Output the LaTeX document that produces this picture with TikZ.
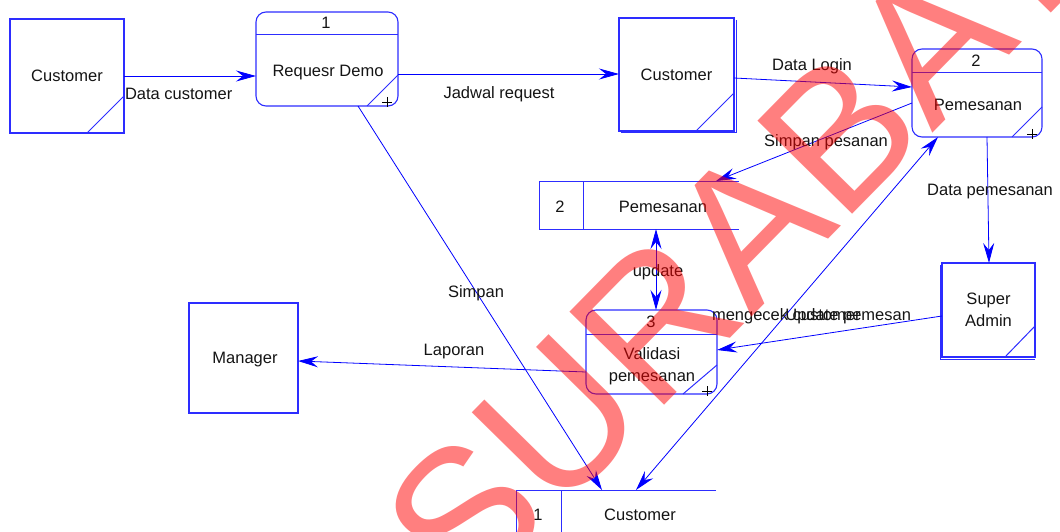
\documentclass[tikz,border=0pt]{standalone}
\usepackage{fontspec}
\setmainfont{Liberation Sans}
\usetikzlibrary{arrows.meta,calc}
\definecolor{ln}{RGB}{0,0,255}
\definecolor{bx}{RGB}{45,45,255}
\definecolor{tx}{RGB}{20,20,20}
\begin{document}
\begin{tikzpicture}[x=1pt,y=-1pt,
  every node/.style={font=\fontsize{16.5}{21.5}\selectfont, text=tx, inner sep=0pt, outer sep=0pt},
  entity/.style={draw=bx, line width=1.1pt, align=center},
  proc/.style={draw=bx, line width=1.1pt, rounded corners=10pt},
  edge line/.style={draw=bx, line width=1pt},
  tip/.tip={Stealth[length=20pt,width=11pt,inset=7pt]},
  flow/.style={draw=ln, line width=0.8pt, -tip},
  biflow/.style={draw=ln, line width=0.8pt, tip-tip},
  plus/.style={draw=black, line width=0.8pt},
  wmark/.style={text=red, opacity=0.5, font=\fontsize{193}{193}\selectfont}]
\useasboundingbox (0,0) rectangle (1060,532);

% external entities
\node[entity, minimum width=114pt, minimum height=114pt] (cust1) at (67,76) {Customer};
\draw[edge line] ($(cust1.south east)+(-37,0)$) -- ($(cust1.south east)+(0,-37)$);

\node[entity, minimum width=115pt, minimum height=113pt] (cust2) at (676.5,74.5) {Customer};
\draw[edge line] ($(cust2.south east)+(-38,0)$) -- ($(cust2.south east)+(0,-38)$);
\draw[edge line] ($(cust2.north east)+(2,2)$) -- ($(cust2.south east)+(2,2)$) -- ($(cust2.south west)+(2,2)$);

\node[entity, minimum width=93pt, minimum height=94pt] (sadmin) at (988.5,310) {Super\\Admin};
\draw[edge line] ($(sadmin.south east)+(-30,0)$) -- ($(sadmin.south east)+(0,-31)$);
\draw[edge line] ($(sadmin.north west)+(-2,2)$) -- ($(sadmin.south west)+(-2,2)$) -- ($(sadmin.south east)+(0,2)$);

\node[entity, minimum width=109pt, minimum height=110pt] (manager) at (243.5,358) {};
\node (mgt) at (245,360) {Manager};

% processes
\node[proc, minimum width=142pt, minimum height=94pt] (p1) at (327,59) {};
\draw[edge line] ($(p1.north west)+(0,23)$) -- ($(p1.north east)+(0,23)$);
\draw[edge line] ($(p1.south east)+(-31,0)$) -- ($(p1.south east)+(0,-31)$);
\node (p1n) at (326,23) {1};
\node (p1t) at (328,73) {Requesr Demo};
\draw[plus] ($(p1.south east)+(-16,-4)$) -- ($(p1.south east)+(-6,-4)$)
            ($(p1.south east)+(-11,-9)$) -- ($(p1.south east)+(-11,1)$);

\node[proc, minimum width=130pt, minimum height=88pt] (p2) at (977,93) {};
\draw[edge line] ($(p2.north west)+(0,24)$) -- ($(p2.north east)+(0,24)$);
\draw[edge line] ($(p2.south east)+(-30,0)$) -- ($(p2.south east)+(0,-30)$);
\node (p2n) at (976,61) {2};
\node (p2t) at (978,105) {Pemesanan};
\draw[plus] ($(p2.south east)+(-15,-3)$) -- ($(p2.south east)+(-5,-3)$)
            ($(p2.south east)+(-10,-8)$) -- ($(p2.south east)+(-10,2)$);

\node[proc, minimum width=131pt, minimum height=84pt] (p3) at (651.5,352) {};
\draw[edge line] ($(p3.north west)+(0,24)$) -- ($(p3.north east)+(0,24)$);
\draw[edge line] ($(p3.south east)+(-34,0)$) -- ($(p3.south east)+(0,-29)$);
\node (p3n) at (651,322) {3};
\node[align=center] (p3t) at (652,366) {Validasi\\pemesanan};
\draw[plus] ($(p3.south east)+(-15,-3)$) -- ($(p3.south east)+(-5,-3)$)
            ($(p3.south east)+(-10,-8)$) -- ($(p3.south east)+(-10,2)$);

% data stores
\node[minimum width=200pt, minimum height=48pt] (s2) at (639,205) {};
\draw[edge line] (s2.north east) -- (s2.north west) -- (s2.south west) -- (s2.south east);
\draw[edge line] ($(s2.north west)+(44,0)$) -- ($(s2.south west)+(44,0)$);
\node (s2n) at (560,207) {2};
\node (s2t) at (663,207) {Pemesanan};

\node[minimum width=200pt, minimum height=48pt] (s1) at (616,514) {};
\draw[edge line] (s1.north east) -- (s1.north west) -- (s1.south west) -- (s1.south east);
\draw[edge line] ($(s1.north west)+(45,0)$) -- ($(s1.south west)+(45,0)$);
\node (s1n) at (538,515) {1};
\node (s1t) at (640,515) {Customer};

% connectors
\coordinate (s2top) at ($(s2.north west)+(177,0)$);
\coordinate (s2bot) at ($(s2.south west)+(117,0)$);
\coordinate (s1a) at ($(s1.north west)+(86,0)$);
\coordinate (s1b) at ($(s1.north west)+(120,0)$);

\draw[flow] (cust1.east) -- (cust1.east -| p1.west);
\draw[flow] ([yshift=-15pt]p1.east) -- ([yshift=-15pt]p1.east -| cust2.west);
\draw[flow] ([yshift=-3.5pt]cust2.east) -- ([yshift=6pt]p2.west);
\draw[flow] ([yshift=-10pt]p2.west) -- (s2top);
\draw[flow] ([xshift=10pt]p2.south) -- ([xshift=0.5pt]sadmin.north);
\draw[flow] ([yshift=-6pt]sadmin.west) -- ([yshift=2pt]p3.east);
\draw[biflow] (s2bot) -- (s2bot |- p3.north);
\draw[flow] ([yshift=-20pt]p3.west) -- ([yshift=-3pt]manager.east);
\draw[flow] ([xshift=31pt]p1.south) -- (s1a);
\draw[biflow] (s1b) -- ([xshift=-39pt]p2.south);

% labels
\node[anchor=west] (l1) at (125,94) {Data customer};
\node (l2) at (499,94) {Jadwal request};
\node (l3) at (812,66) {Data Login};
\node (l4) at (826,142) {Simpan pesanan};
\node (l5) at (990,192) {Data pemesanan};
\node (l6) at (658,272) {update};
\node[anchor=west] (l7) at (712,316) {mengecek customer};
\node[anchor=east] (l8) at (911,316) {Update pemesan};
\node (l9) at (454,352) {Laporan};
\node (l10) at (476,293) {Simpan};

% watermark
\node[wmark, rotate=45.5] (wm) at (777,197) {SURABAYA};
\end{tikzpicture}
\end{document}
